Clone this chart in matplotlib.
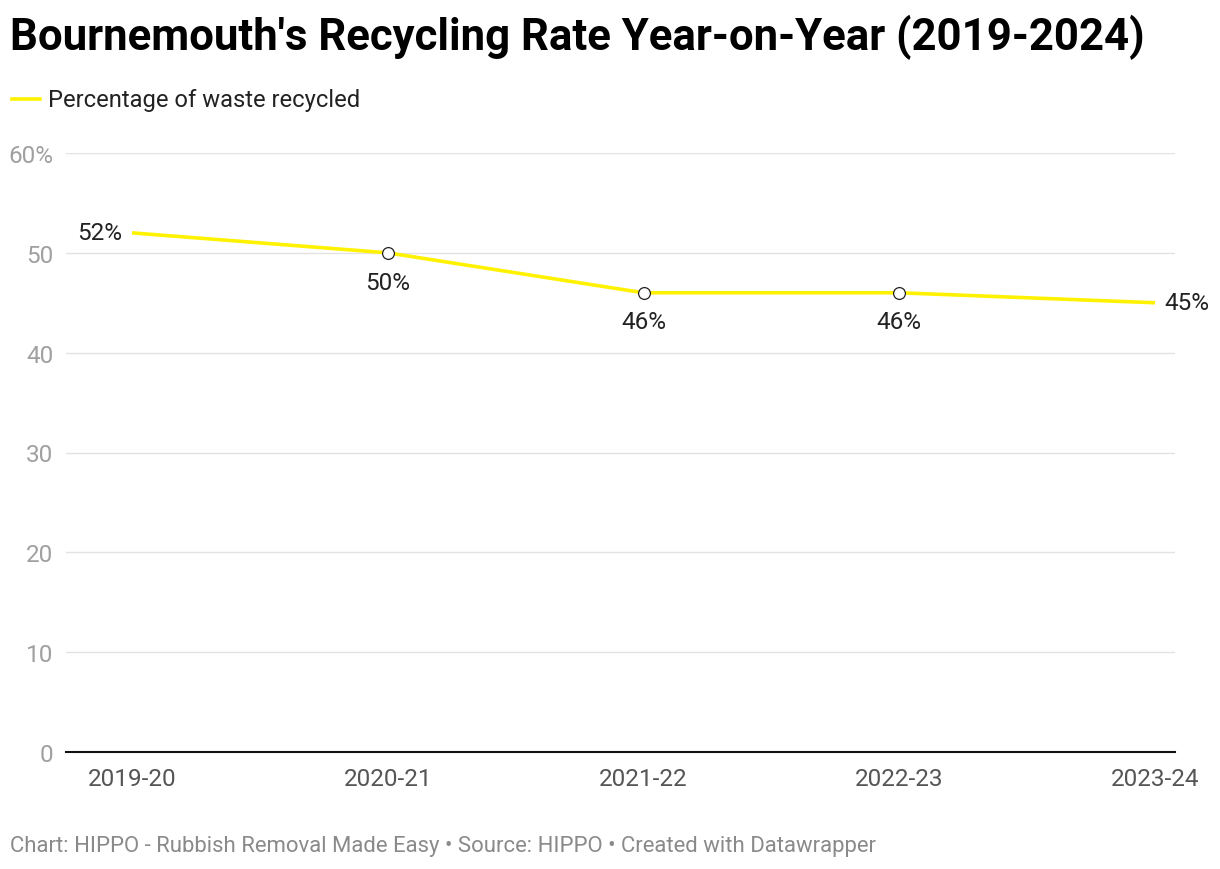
import matplotlib
matplotlib.use("Agg")
import matplotlib.pyplot as plt

years = ["2019-20", "2020-21", "2021-22", "2022-23", "2023-24"]
rates = [52, 50, 46, 46, 45]
label_pos = ["left", "below", "below", "below", "right"]
yticks = [0, 10, 20, 30, 40, 50, 60]
ytick_labels = ["0", "10", "20", "30", "40", "50", "60%"]

plt.rcParams['font.family'] = ['Roboto', 'DejaVu Sans']

fig = plt.figure(figsize=(12.2, 8.7), dpi=100)
ax = fig.add_axes([66/1220, 1-753/870, (1175-66)/1220, (753-154)/870])

x = list(range(len(years)))
ax.plot(x, rates, color='#fff200', lw=2.6, solid_capstyle='butt', zorder=3, clip_on=False)
ax.plot(x[1:-1], rates[1:-1], 'o', ms=8.5, mfc='white', mec='#222222', mew=0.9, zorder=4, clip_on=False)

for xi, v, p in zip(x, rates, label_pos):
    t = f"{v}%"
    if p == "left":
        ax.annotate(t, (xi, v), xytext=(-7, 0), textcoords='offset points', ha='right', va='center', fontsize=17.5, color='#222222')
    elif p == "right":
        ax.annotate(t, (xi, v), xytext=(7, 0), textcoords='offset points', ha='left', va='center', fontsize=17.5, color='#222222')
    else:
        ax.annotate(t, (xi, v), xytext=(0, -21), textcoords='offset points', ha='center', va='center', fontsize=17.5, color='#222222')

ax.set_xlim(-0.258, 4.078)
ax.set_ylim(0, 60)
ax.set_yticks(yticks)
ax.set_yticklabels(ytick_labels)
ax.set_xticks(x)
ax.set_xticklabels(years)
ax.grid(axis='y', color='#e3e3e3', lw=1)
ax.set_axisbelow(True)
for s in ['top', 'right', 'left']:
    ax.spines[s].set_visible(False)
ax.spines['bottom'].set_color('#111111')
ax.spines['bottom'].set_linewidth(1.5)
ax.tick_params(axis='y', length=0, pad=9, labelsize=17.5, labelcolor='#a0a0a0')
ax.tick_params(axis='x', length=0, pad=11, labelsize=17.5, labelcolor='#555555')

fig.text(10/1220, 1-37/870, "Bournemouth's Recycling Rate Year-on-Year (2019-2024)", fontsize=31.5, fontweight='bold', color='#000000', ha='left', va='center')
fig.add_artist(plt.Line2D([12/1220, 40/1220], [1-100/870, 1-100/870], color='#fff200', lw=2.6))
fig.text(48/1220, 1-100/870, "Percentage of waste recycled", fontsize=17.15, color='#222222', ha='left', va='center')
fig.text(10/1220, 1-847/870, "Chart: HIPPO - Rubbish Removal Made Easy \u2022 Source: HIPPO \u2022 Created with Datawrapper", fontsize=15.9, color='#8a8a8a', ha='left', va='center')

fig.savefig("out.png", dpi=100, facecolor='white')
